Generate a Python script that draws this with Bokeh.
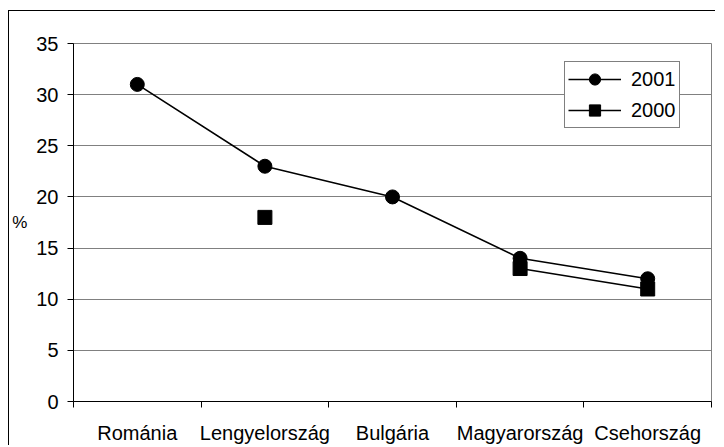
from bokeh.plotting import figure
from bokeh.models import FixedTicker, ColumnDataSource, Legend, LegendItem
from bokeh.embed import file_html
from bokeh.resources import INLINE
import numpy as np

categories = ["Románia", "Lengyelország", "Bulgária", "Magyarország", "Csehország"]
values_2001 = [31, 23, 20, 14, 12]
values_2000 = [np.nan, 18, np.nan, 13, 11]
y_ticks = [0, 5, 10, 15, 20, 25, 30, 35]
series_names = ["2001", "2000"]

FONT = "Liberation Sans"
FS = "20px"

x_pos = [i + 0.5 for i in range(len(categories))]

p = figure(width=707, height=435, output_backend="svg", toolbar_location=None,
           x_range=(0, len(categories)), y_range=(0, 35),
           min_border_left=62, min_border_right=5, min_border_top=32, min_border_bottom=44,
           styles={"border-top": "1px solid black", "border-left": "1px solid black",
                   "margin-top": "10px", "margin-left": "8px"})
p.background_fill_color = "white"
p.border_fill_color = "white"
p.outline_line_color = "#808080"
p.outline_line_width = 1

# grids
p.xgrid.grid_line_color = None
p.ygrid.grid_line_color = "#808080"
p.ygrid.grid_line_width = 1
p.ygrid.ticker = FixedTicker(ticks=y_ticks)

# y axis
p.yaxis.ticker = FixedTicker(ticks=y_ticks)
p.yaxis.axis_line_color = "black"
p.yaxis.major_tick_line_color = "black"
p.yaxis.major_tick_out = 6
p.yaxis.major_tick_in = 0
p.yaxis.minor_tick_line_color = None
p.yaxis.major_label_text_font = FONT
p.yaxis.major_label_text_font_size = FS
p.yaxis.major_label_text_color = "black"
p.yaxis.major_label_standoff = 9
p.yaxis.axis_label = "%"
p.yaxis.axis_label_orientation = "horizontal"
p.yaxis.axis_label_text_font = FONT
p.yaxis.axis_label_text_font_size = "17px"
p.yaxis.axis_label_text_font_style = "normal"
p.yaxis.axis_label_text_color = "black"
p.yaxis.axis_label_standoff = 6

# x axis: labels at category centres, ticks at boundaries
p.xaxis.ticker = FixedTicker(ticks=x_pos, minor_ticks=list(range(len(categories) + 1)))
p.xaxis.major_label_overrides = {x: c for x, c in zip(x_pos, categories)}
p.xaxis.major_tick_line_color = None
p.xaxis.major_tick_out = 0
p.xaxis.major_tick_in = 0
p.xaxis.minor_tick_line_color = "black"
p.xaxis.minor_tick_out = 6
p.xaxis.minor_tick_in = 0
p.xaxis.axis_line_color = "black"
p.xaxis.major_label_text_font = FONT
p.xaxis.major_label_text_font_size = FS
p.xaxis.major_label_text_color = "black"
p.xaxis.major_label_standoff = 14

src = ColumnDataSource(dict(x=x_pos, y1=values_2001, y0=values_2000))

l1 = p.line("x", "y1", source=src, line_color="black", line_width=1.6)
m1 = p.scatter("x", "y1", source=src, marker="circle", size=14, fill_color="black", line_color="black")
l0 = p.line("x", "y0", source=src, line_color="black", line_width=1.6)
m0 = p.scatter("x", "y0", source=src, marker="square", size=14, fill_color="black", line_color="black")

legend = Legend(items=[LegendItem(label=series_names[0], renderers=[l1, m1]),
                       LegendItem(label=series_names[1], renderers=[l0, m0])],
                location=(491, 273))
legend.border_line_color = "black"
legend.border_line_width = 1
legend.background_fill_color = "white"
legend.background_fill_alpha = 1
legend.label_text_font = FONT
legend.label_text_font_size = FS
legend.label_text_color = "black"
legend.glyph_width = 53
legend.glyph_height = 28
legend.label_height = 20
legend.label_standoff = 10
legend.padding = 3
legend.spacing = 3
legend.margin = 0
p.add_layout(legend, "center")

open("out.html", "w").write(file_html(p, INLINE))
